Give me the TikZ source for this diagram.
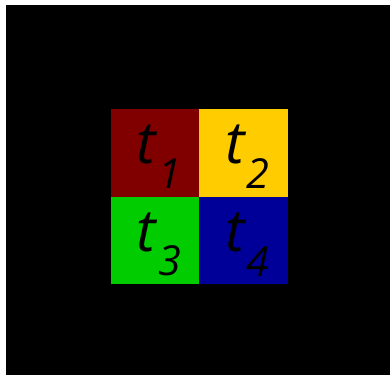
\documentclass[tikz,border=0pt]{standalone}
\usepackage{fontspec}
\setmainfont{Open Sans}
\definecolor{cred}{HTML}{800000}
\definecolor{cyellow}{HTML}{FFCC00}
\definecolor{cgreen}{HTML}{00CC00}
\definecolor{cblue}{HTML}{000099}
\newcommand{\tlab}[1]{{\itshape\fontsize{44}{44}\selectfont t\kern0.04em\raisebox{-0.42em}{\fontsize{31}{31}\selectfont #1}}}
\begin{document}
\begin{tikzpicture}[x=0.75pt,y=-0.75pt,
  cell/.style={rectangle, inner sep=0pt, minimum width=66.4pt, minimum height=65.6pt, text=black},
  lab/.style={inner sep=0pt, text=black}]
\fill[white] (0,0) rectangle (390,375);
\fill[black] (6,5) rectangle (390,375);
\node[cell, fill=cred] (c1) at (155,153) {};
\node[cell, fill=cyellow] (c2) at (243.5,153) {};
\node[cell, fill=cgreen] (c3) at (155,240.5) {};
\node[cell, fill=cblue] (c4) at (243.5,240.5) {};
\node[lab] (l1) at ([xshift=3pt,yshift=-3pt]c1.center) {\tlab{1}};
\node[lab] (l2) at ([xshift=3pt,yshift=-3pt]c2.center) {\tlab{2}};
\node[lab] (l3) at ([xshift=3pt,yshift=-3pt]c3.center) {\tlab{3}};
\node[lab] (l4) at ([xshift=3pt,yshift=-3pt]c4.center) {\tlab{4}};
\end{tikzpicture}
\end{document}
